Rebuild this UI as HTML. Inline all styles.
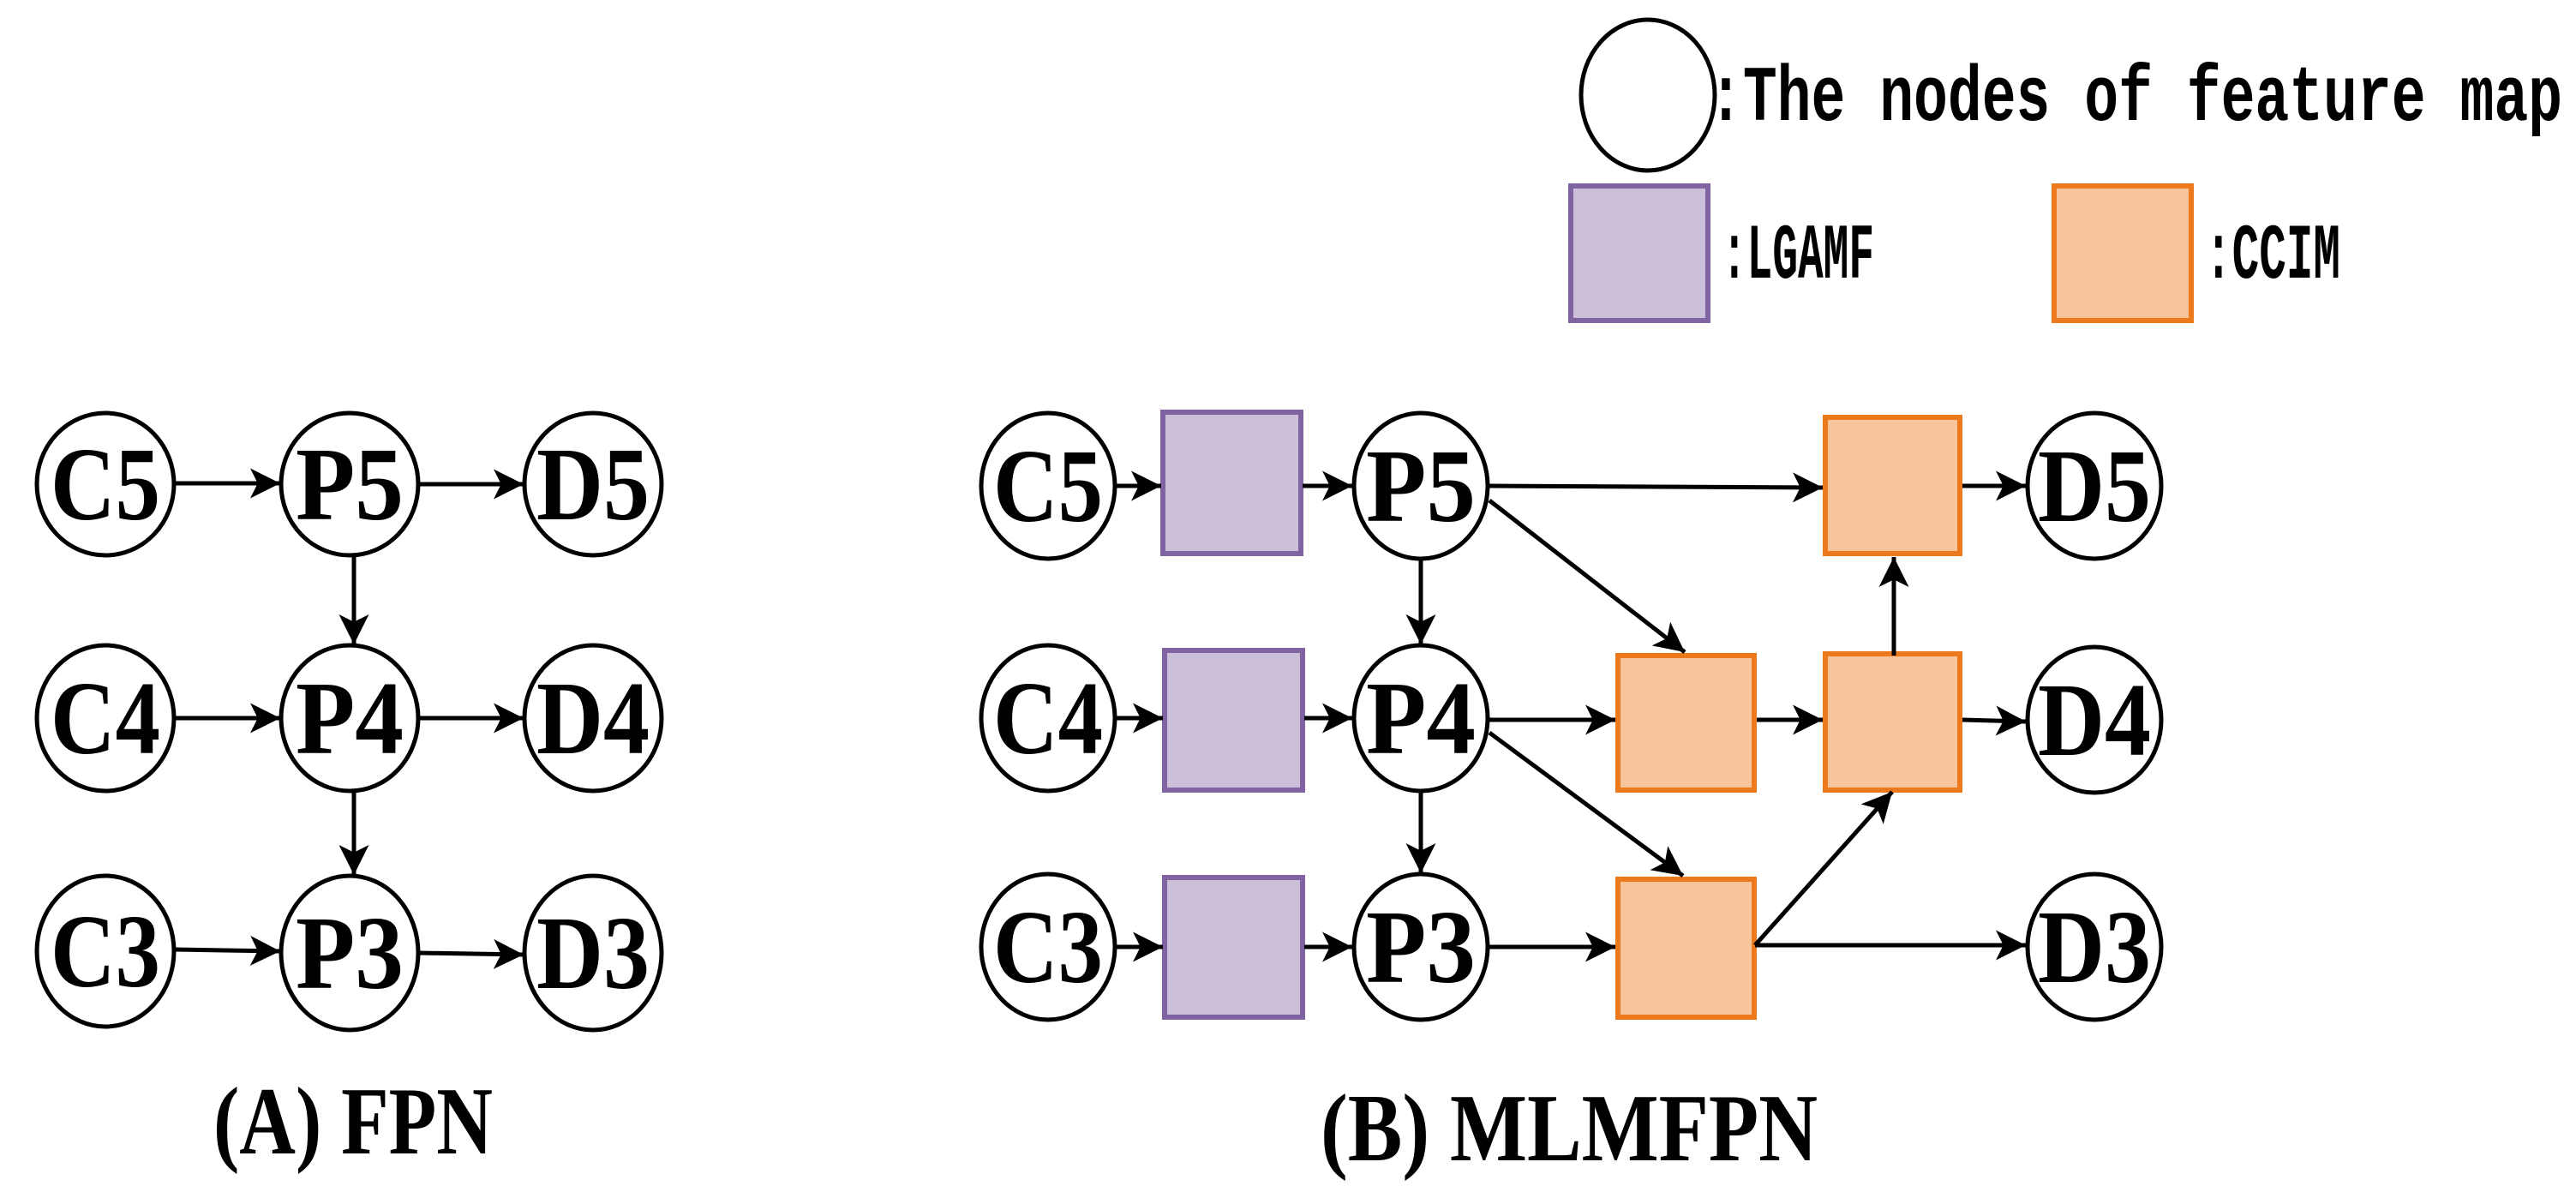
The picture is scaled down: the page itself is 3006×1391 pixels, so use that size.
<!DOCTYPE html>
<html><head><meta charset="utf-8"><style>html,body{margin:0;padding:0;background:#fff}svg{display:block}</style></head>
<body>
<svg width="3006" height="1391" viewBox="0 0 3006 1391" xmlns="http://www.w3.org/2000/svg">
<defs>
<marker id="a" viewBox="0 0 10 10" refX="10" refY="5" markerWidth="8.5" markerHeight="7" markerUnits="strokeWidth" orient="auto">
<path d="M0,0 L10,5 L0,10 L2.5,5 z" fill="#000"/></marker>
</defs>
<g fill="#fff" stroke="#000" stroke-width="5">
<ellipse cx="123" cy="565" rx="80" ry="83"/><ellipse cx="408" cy="565" rx="80" ry="83"/><ellipse cx="692" cy="565" rx="80" ry="83"/>
<ellipse cx="123" cy="838" rx="80" ry="85"/><ellipse cx="408" cy="838" rx="80" ry="85"/><ellipse cx="692" cy="838" rx="80" ry="85"/>
<ellipse cx="123" cy="1110" rx="80" ry="88"/><ellipse cx="408" cy="1112" rx="80" ry="90"/><ellipse cx="692" cy="1112" rx="80" ry="90"/>
<ellipse cx="1223" cy="567" rx="78" ry="85"/><ellipse cx="1658" cy="567" rx="78" ry="85"/><ellipse cx="2444" cy="567" rx="78" ry="85"/>
<ellipse cx="1223" cy="838" rx="78" ry="85"/><ellipse cx="1658" cy="838" rx="78" ry="85"/><ellipse cx="2444" cy="840" rx="78" ry="85"/>
<ellipse cx="1223" cy="1105" rx="78" ry="85"/><ellipse cx="1658" cy="1105" rx="78" ry="85"/><ellipse cx="2444" cy="1105" rx="78" ry="85"/>
<ellipse cx="1923" cy="111" rx="78" ry="88"/>
</g>
<g fill="#cbbfda" stroke="#8064a2" stroke-width="6">
<rect x="1357" y="481" width="161" height="165"/><rect x="1359" y="759" width="161" height="163"/><rect x="1359" y="1024" width="161" height="163"/>
<rect x="1833" y="217" width="160" height="157"/>
</g>
<g fill="#f8c49a" stroke="#ec7a1c" stroke-width="6">
<rect x="2130" y="487" width="157" height="159"/><rect x="1888" y="765" width="159" height="157"/><rect x="2130" y="763" width="157" height="159"/><rect x="1888" y="1026" width="159" height="161"/>
<rect x="2397" y="217" width="160" height="157"/>
</g>
<g stroke="#000" stroke-width="5" fill="none" marker-end="url(#a)">
<line x1="204" y1="564" x2="327" y2="564"/><line x1="489" y1="565" x2="611" y2="565"/>
<line x1="204" y1="838" x2="327" y2="838"/><line x1="489" y1="838" x2="611" y2="838"/>
<line x1="204" y1="1108" x2="327" y2="1110"/><line x1="489" y1="1112" x2="611" y2="1114"/>
<line x1="413" y1="650" x2="413" y2="752"/><line x1="413" y1="924" x2="413" y2="1021"/>
<line x1="1301" y1="567" x2="1355" y2="567"/><line x1="1520" y1="567" x2="1578" y2="567"/>
<line x1="1301" y1="838" x2="1357" y2="838"/><line x1="1522" y1="838" x2="1578" y2="838"/>
<line x1="1301" y1="1105" x2="1357" y2="1105"/><line x1="1522" y1="1105" x2="1578" y2="1105"/>
<line x1="1737" y1="567" x2="2127" y2="569"/><line x1="2290" y1="567" x2="2364" y2="567"/>
<line x1="1658" y1="653" x2="1658" y2="752"/><line x1="1658" y1="924" x2="1658" y2="1019"/>
<line x1="1737" y1="840" x2="1885" y2="840"/><line x1="2050" y1="840" x2="2127" y2="840"/><line x1="2290" y1="840" x2="2364" y2="842"/>
<line x1="1737" y1="1105" x2="1885" y2="1105"/>
<line x1="1738" y1="584" x2="1966" y2="761"/><line x1="1738" y1="855" x2="1964" y2="1022"/>
<line x1="2048" y1="1103" x2="2208" y2="924"/><line x1="2048" y1="1103" x2="2364" y2="1103"/>
<line x1="2210" y1="765" x2="2210" y2="650"/>
</g>
<g font-family="Liberation Serif, serif" font-weight="bold" font-size="122" text-anchor="middle">
<text x="123" y="606" textLength="128" lengthAdjust="spacingAndGlyphs">C5</text><text x="408" y="606" textLength="126" lengthAdjust="spacingAndGlyphs">P5</text><text x="692" y="606" textLength="132" lengthAdjust="spacingAndGlyphs">D5</text>
<text x="123" y="879" textLength="128" lengthAdjust="spacingAndGlyphs">C4</text><text x="408" y="879" textLength="126" lengthAdjust="spacingAndGlyphs">P4</text><text x="692" y="879" textLength="132" lengthAdjust="spacingAndGlyphs">D4</text>
<text x="123" y="1151" textLength="128" lengthAdjust="spacingAndGlyphs">C3</text><text x="408" y="1153" textLength="126" lengthAdjust="spacingAndGlyphs">P3</text><text x="692" y="1153" textLength="132" lengthAdjust="spacingAndGlyphs">D3</text>
<text x="1223" y="608" textLength="128" lengthAdjust="spacingAndGlyphs">C5</text><text x="1658" y="608" textLength="128" lengthAdjust="spacingAndGlyphs">P5</text><text x="2444" y="608" textLength="132" lengthAdjust="spacingAndGlyphs">D5</text>
<text x="1223" y="879" textLength="128" lengthAdjust="spacingAndGlyphs">C4</text><text x="1658" y="879" textLength="128" lengthAdjust="spacingAndGlyphs">P4</text><text x="2444" y="881" textLength="132" lengthAdjust="spacingAndGlyphs">D4</text>
<text x="1223" y="1146" textLength="128" lengthAdjust="spacingAndGlyphs">C3</text><text x="1658" y="1146" textLength="128" lengthAdjust="spacingAndGlyphs">P3</text><text x="2444" y="1146" textLength="132" lengthAdjust="spacingAndGlyphs">D3</text>
<text x="412" y="1346" font-size="112" textLength="326" lengthAdjust="spacingAndGlyphs">(A) FPN</text>
<text x="1831" y="1354" font-size="112" textLength="580" lengthAdjust="spacingAndGlyphs">(B) MLMFPN</text>
</g>
<g font-family="Liberation Mono, monospace" font-weight="bold" font-size="92">
<text x="1994" y="140" textLength="996" lengthAdjust="spacingAndGlyphs">:The nodes of feature map</text>
<text x="2009" y="324" textLength="178" lengthAdjust="spacingAndGlyphs">:LGAMF</text>
<text x="2573" y="324" textLength="158" lengthAdjust="spacingAndGlyphs">:CCIM</text>
</g>
</svg>
</body></html>
